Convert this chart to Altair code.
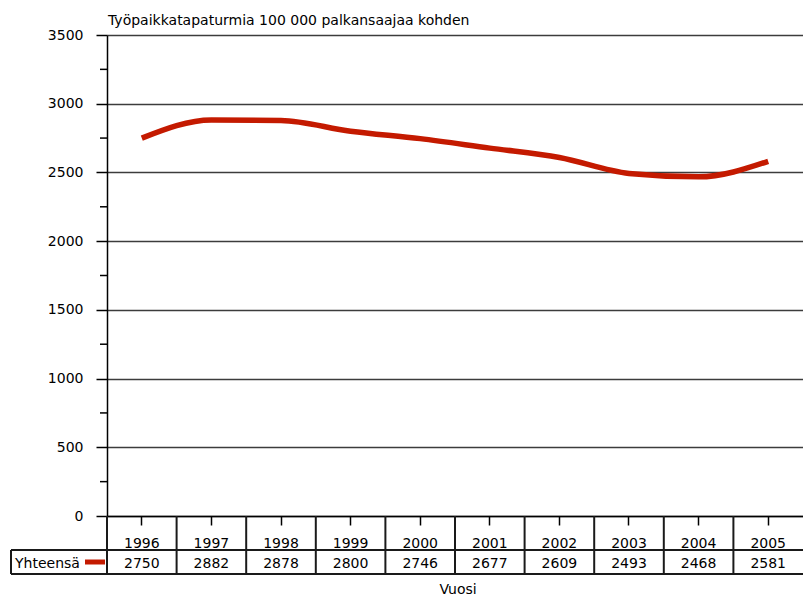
import altair as alt
import pandas as pd

years = ["1996", "1997", "1998", "1999", "2000", "2001", "2002", "2003", "2004", "2005"]
values = [2750, 2882, 2878, 2800, 2746, 2677, 2609, 2493, 2468, 2581]
y_major = [0, 500, 1000, 1500, 2000, 2500, 3000, 3500]
y_minor = [250, 750, 1250, 1750, 2250, 2750, 3250]
series_name = "Yhteensä"
title_text = "Työpaikkatapaturmia 100 000 palkansaajaa kohden"
x_title = "Vuosi"

W = 696
H = 481
FONT = "DejaVu Sans"
FS = 14
LINE_COLOR = "#c41a00"
TABLE_COLOR = "#1a1a1a"

df = pd.DataFrame({"Vuosi": years, "Yhteensä": values})
minor_df = pd.DataFrame({"v": y_minor})
one = pd.DataFrame({"k": [0]})

xscale = alt.Scale(type="band", paddingInner=0, paddingOuter=0, domain=years)
yscale = alt.Scale(domain=[0, 3500], nice=False, zero=True)

base = alt.Chart(df)

line = base.mark_line(color=LINE_COLOR, strokeWidth=5.5, interpolate="monotone").encode(
    x=alt.X("Vuosi:O", scale=xscale,
            axis=alt.Axis(title=None, labels=False, tickSize=9, tickColor="black",
                          tickWidth=1.5, domainColor="black", domainWidth=1.5, grid=False)),
    y=alt.Y("Yhteensä:Q", scale=yscale,
            axis=alt.Axis(title=None, values=y_major, format="d", grid=True,
                          gridColor="#3c3c3c", gridWidth=1.5, tickSize=11,
                          tickColor="black", tickWidth=1.5, domainColor="black",
                          domainWidth=1.5, labelPadding=13, labelFont=FONT,
                          labelFontSize=FS, labelColor="black")),
)

minor = alt.Chart(minor_df).mark_rule(color="black", strokeWidth=1.5).encode(
    y=alt.Y("v:Q", scale=yscale),
    x=alt.value(-7), x2=alt.value(0),
)

year_text = base.mark_text(font=FONT, fontSize=FS, color="black", baseline="alphabetic").encode(
    x=alt.X("Vuosi:O", scale=xscale),
    y=alt.value(513),
    text="Vuosi:N",
)

value_text = base.mark_text(font=FONT, fontSize=FS, color="black", baseline="alphabetic").encode(
    x=alt.X("Vuosi:O", scale=xscale),
    y=alt.value(533),
    text="Yhteensä:Q",
)

dividers = base.mark_rule(color=TABLE_COLOR, strokeWidth=2).encode(
    x=alt.X("Vuosi:O", scale=xscale, bandPosition=0),
    y=alt.value(H), y2=alt.value(539),
)

o = alt.Chart(one)
row_line = o.mark_rule(color=TABLE_COLOR, strokeWidth=2).encode(
    x=alt.value(-96), x2=alt.value(W), y=alt.value(515))
bottom_line = o.mark_rule(color=TABLE_COLOR, strokeWidth=2).encode(
    x=alt.value(-96), x2=alt.value(W), y=alt.value(539))
left_border = o.mark_rule(color=TABLE_COLOR, strokeWidth=2).encode(
    x=alt.value(-96), y=alt.value(515), y2=alt.value(539))
swatch = o.mark_rule(color=LINE_COLOR, strokeWidth=5).encode(
    x=alt.value(-22), x2=alt.value(-2), y=alt.value(527))
legend_text = o.mark_text(font=FONT, fontSize=FS, color="black", align="left",
                          baseline="alphabetic").encode(
    x=alt.value(-92), y=alt.value(533), text=alt.value(series_name))
title = o.mark_text(font=FONT, fontSize=FS, color="black", align="left",
                    baseline="alphabetic").encode(
    x=alt.value(1), y=alt.value(-10), text=alt.value(title_text))
xtitle = o.mark_text(font=FONT, fontSize=FS, color="black", align="center",
                     baseline="alphabetic").encode(
    x=alt.value(351), y=alt.value(559), text=alt.value(x_title))

chart = alt.layer(
    line, minor, dividers, row_line, bottom_line, left_border, swatch,
    year_text, value_text, legend_text, title, xtitle,
).properties(
    width=W, height=H,
    padding={"left": 99, "top": 27, "right": 0, "bottom": 83},
    autosize=alt.AutoSizeParams(type="none"),
).configure_view(stroke=None).configure(background="white")

chart.save("out.html", embed_options={"renderer": "svg", "actions": False})
